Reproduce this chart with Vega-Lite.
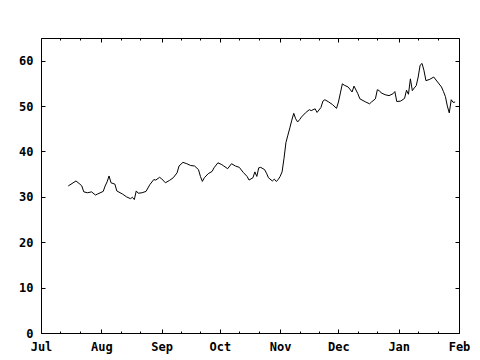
{
  "$schema": "https://vega.github.io/schema/vega-lite/v6.json",
  "width": 418,
  "height": 295,
  "autosize": {"type": "none"},
  "padding": {"left": 41, "top": 38, "right": 21, "bottom": 27},
  "background": "white",
  "config": {
    "view": {"stroke": "black", "strokeWidth": 1},
    "axis": {
      "labelFont": "DejaVu Sans Mono",
      "labelFontWeight": "bold",
      "labelFontSize": 12,
      "labelColor": "black",
      "tickColor": "black",
      "tickWidth": 1,
      "domain": false,
      "grid": false,
      "title": null,
      "labelOverlap": false,
      "labelFlush": false
    }
  },
  "data": {"values": [
    {"date": "2004-07-15", "v": 32.4},
    {"date": "2004-07-19", "v": 33.5},
    {"date": "2004-07-21", "v": 32.8},
    {"date": "2004-07-22", "v": 32.4},
    {"date": "2004-07-23", "v": 31.1},
    {"date": "2004-07-25", "v": 30.9},
    {"date": "2004-07-27", "v": 31.1},
    {"date": "2004-07-29", "v": 30.4},
    {"date": "2004-07-30", "v": 30.6},
    {"date": "2004-08-02", "v": 31.2},
    {"date": "2004-08-03", "v": 32.4},
    {"date": "2004-08-04", "v": 33.3},
    {"date": "2004-08-05", "v": 34.6},
    {"date": "2004-08-06", "v": 33.1},
    {"date": "2004-08-08", "v": 32.8},
    {"date": "2004-08-09", "v": 31.3},
    {"date": "2004-08-12", "v": 30.6},
    {"date": "2004-08-14", "v": 30.0},
    {"date": "2004-08-16", "v": 29.6},
    {"date": "2004-08-17", "v": 29.9},
    {"date": "2004-08-18", "v": 29.4},
    {"date": "2004-08-19", "v": 31.3},
    {"date": "2004-08-20", "v": 30.8},
    {"date": "2004-08-22", "v": 30.9},
    {"date": "2004-08-24", "v": 31.2},
    {"date": "2004-08-26", "v": 32.7},
    {"date": "2004-08-28", "v": 33.8},
    {"date": "2004-08-29", "v": 33.7},
    {"date": "2004-08-31", "v": 34.3},
    {"date": "2004-09-01", "v": 34.0},
    {"date": "2004-09-03", "v": 33.1},
    {"date": "2004-09-05", "v": 33.6},
    {"date": "2004-09-07", "v": 34.2},
    {"date": "2004-09-09", "v": 35.3},
    {"date": "2004-09-10", "v": 36.8},
    {"date": "2004-09-12", "v": 37.6},
    {"date": "2004-09-14", "v": 37.3},
    {"date": "2004-09-16", "v": 36.9},
    {"date": "2004-09-18", "v": 36.8},
    {"date": "2004-09-20", "v": 36.0},
    {"date": "2004-09-21", "v": 34.5},
    {"date": "2004-09-22", "v": 33.4},
    {"date": "2004-09-23", "v": 34.2},
    {"date": "2004-09-25", "v": 35.1},
    {"date": "2004-09-27", "v": 35.6},
    {"date": "2004-09-28", "v": 36.4},
    {"date": "2004-09-30", "v": 37.5},
    {"date": "2004-10-02", "v": 37.1},
    {"date": "2004-10-03", "v": 36.8},
    {"date": "2004-10-05", "v": 36.2},
    {"date": "2004-10-07", "v": 37.3},
    {"date": "2004-10-09", "v": 36.8},
    {"date": "2004-10-11", "v": 36.5},
    {"date": "2004-10-13", "v": 35.4},
    {"date": "2004-10-15", "v": 34.5},
    {"date": "2004-10-16", "v": 33.7},
    {"date": "2004-10-18", "v": 34.2},
    {"date": "2004-10-19", "v": 35.5},
    {"date": "2004-10-20", "v": 34.5},
    {"date": "2004-10-21", "v": 36.4},
    {"date": "2004-10-22", "v": 36.5},
    {"date": "2004-10-24", "v": 36.0},
    {"date": "2004-10-25", "v": 35.2},
    {"date": "2004-10-26", "v": 34.2},
    {"date": "2004-10-28", "v": 33.5},
    {"date": "2004-10-29", "v": 33.9},
    {"date": "2004-10-30", "v": 33.4},
    {"date": "2004-10-31", "v": 33.8},
    {"date": "2004-11-01", "v": 34.5},
    {"date": "2004-11-02", "v": 35.5},
    {"date": "2004-11-03", "v": 38.5},
    {"date": "2004-11-04", "v": 42.0},
    {"date": "2004-11-05", "v": 43.6},
    {"date": "2004-11-06", "v": 45.2},
    {"date": "2004-11-07", "v": 46.9},
    {"date": "2004-11-08", "v": 48.4},
    {"date": "2004-11-09", "v": 47.2},
    {"date": "2004-11-10", "v": 46.5},
    {"date": "2004-11-11", "v": 47.0},
    {"date": "2004-11-12", "v": 47.6},
    {"date": "2004-11-14", "v": 48.5},
    {"date": "2004-11-16", "v": 49.2},
    {"date": "2004-11-17", "v": 49.0},
    {"date": "2004-11-19", "v": 49.4},
    {"date": "2004-11-20", "v": 48.6},
    {"date": "2004-11-22", "v": 49.7},
    {"date": "2004-11-23", "v": 51.1},
    {"date": "2004-11-24", "v": 51.4},
    {"date": "2004-11-26", "v": 50.9},
    {"date": "2004-11-28", "v": 50.3},
    {"date": "2004-11-30", "v": 49.5},
    {"date": "2004-12-01", "v": 50.9},
    {"date": "2004-12-02", "v": 52.9},
    {"date": "2004-12-03", "v": 54.9},
    {"date": "2004-12-04", "v": 54.6},
    {"date": "2004-12-06", "v": 54.2},
    {"date": "2004-12-08", "v": 53.1},
    {"date": "2004-12-09", "v": 54.4},
    {"date": "2004-12-11", "v": 52.7},
    {"date": "2004-12-12", "v": 51.6},
    {"date": "2004-12-15", "v": 50.9},
    {"date": "2004-12-17", "v": 50.5},
    {"date": "2004-12-18", "v": 50.9},
    {"date": "2004-12-20", "v": 51.6},
    {"date": "2004-12-21", "v": 53.6},
    {"date": "2004-12-22", "v": 53.4},
    {"date": "2004-12-23", "v": 52.9},
    {"date": "2004-12-25", "v": 52.5},
    {"date": "2004-12-27", "v": 52.3},
    {"date": "2004-12-29", "v": 52.7},
    {"date": "2004-12-30", "v": 53.2},
    {"date": "2004-12-31", "v": 51.0},
    {"date": "2005-01-02", "v": 51.1},
    {"date": "2005-01-04", "v": 51.7},
    {"date": "2005-01-05", "v": 53.5},
    {"date": "2005-01-06", "v": 52.6},
    {"date": "2005-01-07", "v": 56.0},
    {"date": "2005-01-08", "v": 53.4},
    {"date": "2005-01-09", "v": 54.0},
    {"date": "2005-01-10", "v": 54.5},
    {"date": "2005-01-11", "v": 56.4},
    {"date": "2005-01-12", "v": 59.0},
    {"date": "2005-01-13", "v": 59.4},
    {"date": "2005-01-14", "v": 57.8},
    {"date": "2005-01-15", "v": 55.6},
    {"date": "2005-01-17", "v": 55.9},
    {"date": "2005-01-19", "v": 56.4},
    {"date": "2005-01-21", "v": 55.3},
    {"date": "2005-01-23", "v": 54.2},
    {"date": "2005-01-24", "v": 53.2},
    {"date": "2005-01-25", "v": 52.1},
    {"date": "2005-01-26", "v": 50.0},
    {"date": "2005-01-27", "v": 48.5},
    {"date": "2005-01-28", "v": 51.4},
    {"date": "2005-01-29", "v": 50.8},
    {"date": "2005-01-30", "v": 50.9}
  ]},
  "layer": [
    {
      "mark": {"type": "line", "color": "black", "strokeWidth": 1},
      "encoding": {
        "x": {
          "field": "date", "type": "temporal",
          "scale": {"type": "utc", "domain": [{"year": 2004, "month": 7, "date": 1, "utc": true}, {"year": 2005, "month": 2, "date": 1, "utc": true}]},
          "axis": {
            "orient": "bottom",
            "values": [
              {"year": 2004, "month": 7, "date": 1, "utc": true},
              {"year": 2004, "month": 7, "date": 11, "utc": true},
              {"year": 2004, "month": 7, "date": 21, "utc": true},
              {"year": 2004, "month": 8, "date": 1, "utc": true},
              {"year": 2004, "month": 8, "date": 11, "utc": true},
              {"year": 2004, "month": 8, "date": 21, "utc": true},
              {"year": 2004, "month": 9, "date": 1, "utc": true},
              {"year": 2004, "month": 9, "date": 11, "utc": true},
              {"year": 2004, "month": 9, "date": 21, "utc": true},
              {"year": 2004, "month": 10, "date": 1, "utc": true},
              {"year": 2004, "month": 10, "date": 11, "utc": true},
              {"year": 2004, "month": 10, "date": 21, "utc": true},
              {"year": 2004, "month": 11, "date": 1, "utc": true},
              {"year": 2004, "month": 11, "date": 11, "utc": true},
              {"year": 2004, "month": 11, "date": 21, "utc": true},
              {"year": 2004, "month": 12, "date": 1, "utc": true},
              {"year": 2004, "month": 12, "date": 11, "utc": true},
              {"year": 2004, "month": 12, "date": 21, "utc": true},
              {"year": 2005, "month": 1, "date": 1, "utc": true},
              {"year": 2005, "month": 1, "date": 11, "utc": true},
              {"year": 2005, "month": 1, "date": 21, "utc": true},
              {"year": 2005, "month": 2, "date": 1, "utc": true}
            ],
            "labelExpr": "utcdate(datum.value) == 1 ? utcFormat(datum.value, '%b') : ''",
            "tickSize": {"condition": {"test": "utcdate(datum.value) == 1", "value": -4}, "value": -2},
            "labelPadding": 12
          }
        },
        "y": {
          "field": "v", "type": "quantitative",
          "scale": {"domain": [0, 65], "nice": false, "zero": true},
          "axis": {"orient": "left", "values": [0, 10, 20, 30, 40, 50, 60], "tickSize": -4, "labelPadding": 12}
        }
      }
    },
    {
      "mark": {"type": "line", "opacity": 0},
      "encoding": {
        "x": {
          "field": "date", "type": "temporal",
          "scale": {"type": "utc", "domain": [{"year": 2004, "month": 7, "date": 1, "utc": true}, {"year": 2005, "month": 2, "date": 1, "utc": true}]},
          "axis": {
            "orient": "top",
            "labels": false,
            "values": [
              {"year": 2004, "month": 7, "date": 1, "utc": true},
              {"year": 2004, "month": 7, "date": 11, "utc": true},
              {"year": 2004, "month": 7, "date": 21, "utc": true},
              {"year": 2004, "month": 8, "date": 1, "utc": true},
              {"year": 2004, "month": 8, "date": 11, "utc": true},
              {"year": 2004, "month": 8, "date": 21, "utc": true},
              {"year": 2004, "month": 9, "date": 1, "utc": true},
              {"year": 2004, "month": 9, "date": 11, "utc": true},
              {"year": 2004, "month": 9, "date": 21, "utc": true},
              {"year": 2004, "month": 10, "date": 1, "utc": true},
              {"year": 2004, "month": 10, "date": 11, "utc": true},
              {"year": 2004, "month": 10, "date": 21, "utc": true},
              {"year": 2004, "month": 11, "date": 1, "utc": true},
              {"year": 2004, "month": 11, "date": 11, "utc": true},
              {"year": 2004, "month": 11, "date": 21, "utc": true},
              {"year": 2004, "month": 12, "date": 1, "utc": true},
              {"year": 2004, "month": 12, "date": 11, "utc": true},
              {"year": 2004, "month": 12, "date": 21, "utc": true},
              {"year": 2005, "month": 1, "date": 1, "utc": true},
              {"year": 2005, "month": 1, "date": 11, "utc": true},
              {"year": 2005, "month": 1, "date": 21, "utc": true},
              {"year": 2005, "month": 2, "date": 1, "utc": true}
            ],
            "tickSize": {"condition": {"test": "utcdate(datum.value) == 1", "value": -4}, "value": -2}
          }
        },
        "y": {
          "field": "v", "type": "quantitative",
          "scale": {"domain": [0, 65], "nice": false, "zero": true},
          "axis": {"orient": "right", "labels": false, "values": [0, 10, 20, 30, 40, 50, 60], "tickSize": -4}
        }
      }
    }
  ],
  "resolve": {"axis": {"x": "independent", "y": "independent"}}
}
